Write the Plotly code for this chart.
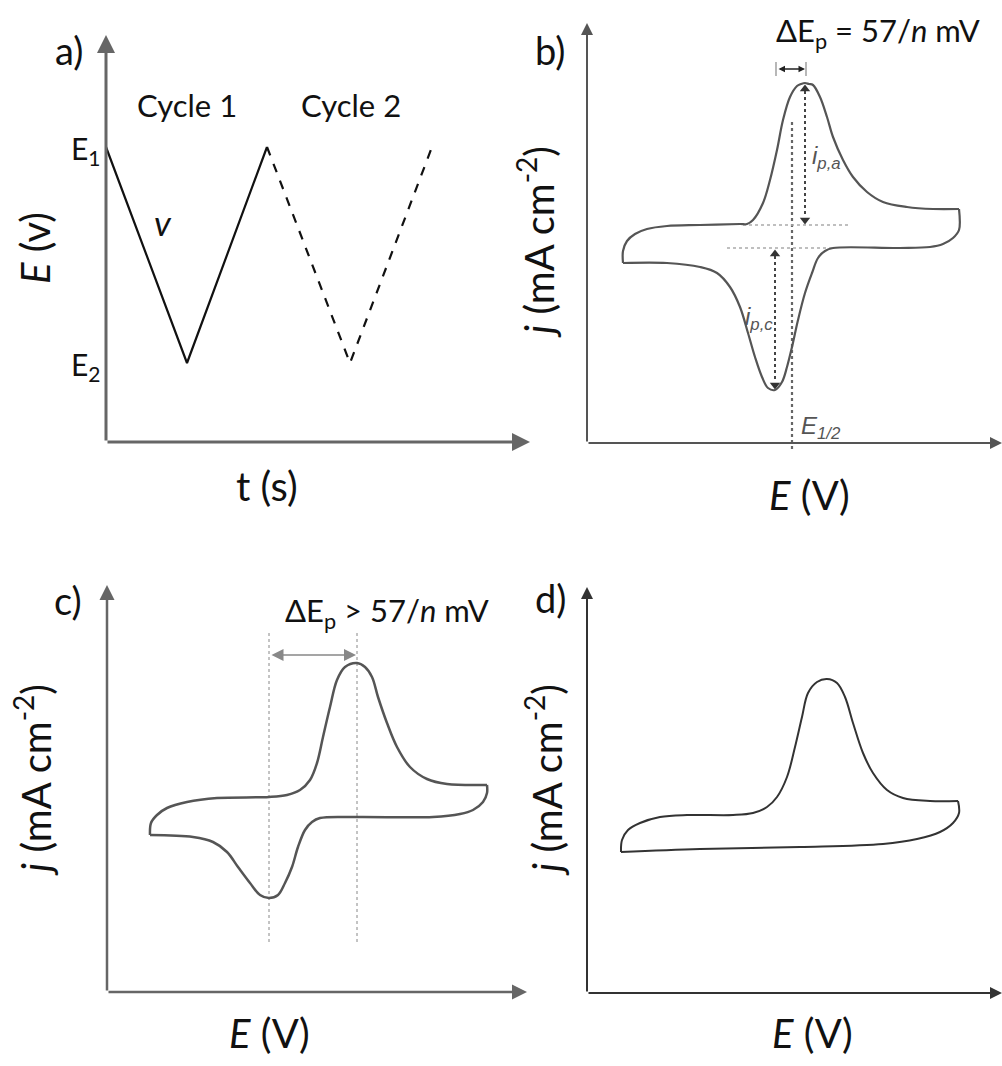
import plotly.graph_objects as go

W, H = 1002, 1066

# ---------------- data (arbitrary schematic units) ----------------
# panel a: potential waveform
a_t_cycle1 = [0, 81, 161]
a_E_cycle1 = [295, 79, 295]
a_t_cycle2 = [161, 244, 326]
a_E_cycle2 = [295, 79, 295]

# panel b: reversible CV (forward = upper branch, reverse = lower branch)
b_fwd_E = [36, 36, 40, 48, 60, 80, 113, 153, 160, 166, 176, 183, 190, 196, 203, 210, 214, 218, 222, 226,
           233, 240, 246, 256, 266, 280, 296, 320, 346, 372]
b_fwd_j = [180, 192, 202, 209, 214, 217, 218, 219, 219, 223, 240, 263, 293, 323, 346, 357, 359, 360, 359, 358,
           346, 326, 306, 283, 266, 251, 241, 236, 234, 234]
b_rev_E = [372, 372, 366, 356, 343, 313, 246, 238, 231, 225, 218, 211, 205, 200, 195, 188, 181, 175, 168, 161,
           153, 143, 130, 113, 80, 36]
b_rev_j = [234, 213, 205, 199, 196, 195, 195, 192, 185, 170, 150, 123, 96, 76, 61, 53, 55, 66, 86, 110,
           136, 156, 170, 176, 180, 180]
b_Epa, b_Epc, b_E12 = 218, 188, 205
b_jpa, b_jpc = 360, 53
b_base_a, b_base_c = 218, 195

# panel c: quasi-reversible CV
c_fwd_E = [43, 44, 50, 60, 80, 110, 162, 180, 193, 203, 210, 216, 223, 230, 238, 250, 258, 265, 271, 280,
           290, 303, 320, 340, 380]
c_fwd_j = [157, 169, 177, 184, 190, 194, 195, 197, 202, 212, 229, 255, 285, 312, 325, 329, 325, 315, 295, 269,
           245, 225, 213, 208, 207]
c_rev_E = [380, 380, 376, 366, 353, 326, 250, 213, 205, 198, 191, 185, 178, 171, 162, 153, 143, 131, 120, 106,
           86, 43]
c_rev_j = [207, 199, 190, 182, 178, 175, 175, 174, 170, 162, 145, 125, 109, 97, 94, 97, 109, 125, 140, 150,
           155, 157]
c_Epc, c_Epa = 162, 250

# panel d: irreversible CV
d_fwd_E = [34, 35, 41, 53, 73, 100, 146, 166, 180, 190, 200, 208, 215, 221, 230, 240, 250, 258, 266, 276,
           286, 300, 316, 343, 371]
d_fwd_j = [141, 153, 163, 170, 176, 178, 178, 180, 186, 196, 216, 246, 276, 300, 311, 314, 310, 296, 270, 240,
           220, 203, 195, 192, 192]
d_rev_E = [371, 372, 366, 353, 330, 296, 213, 113, 34]
d_rev_j = [192, 180, 170, 161, 154, 149, 146, 144, 141]

# ---------------- layout helpers ----------------
FONT = "Lato, Open Sans, sans-serif"

def px(x, y):
    return x / W, 1 - y / H

panels = {
    # name: (origin_x_px, origin_y_px, xrange, yrange, x_tip, y_tip)
    "a": (106, 442, [-20, 424], [-20, 407], 424, 407),
    "b": (587, 443, [-20, 415], [-20, 420], 415, 420),
    "c": (107, 992, [-20, 420], [-20, 407], 420, 407),
    "d": (587, 993, [-20, 415], [-20, 406], 415, 406),
}
axis_ids = {"a": ("x", "y"), "b": ("x2", "y2"), "c": ("x3", "y3"), "d": ("x4", "y4")}
axis_colors = {"a": "#666666", "b": "#555555", "c": "#666666", "d": "#333333"}
axis_widths = {"a": 3, "b": 2, "c": 2.5, "d": 2}

fig = go.Figure()
layout = dict(width=W, height=H, margin=dict(l=0, r=0, t=0, b=0),
              paper_bgcolor="white", plot_bgcolor="rgba(0,0,0,0)", showlegend=False)
annotations = []

for k, (ox, oy, xr, yr, xt, yt) in panels.items():
    xa, ya = axis_ids[k]
    xname = "xaxis" + xa[1:]
    yname = "yaxis" + ya[1:]
    layout[xname] = dict(domain=[(ox + xr[0]) / W, (ox + xr[1]) / W], range=xr,
                         visible=False, fixedrange=True, anchor=ya)
    layout[yname] = dict(domain=[1 - (oy - yr[0]) / H, 1 - (oy - yr[1]) / H], range=yr,
                         visible=False, fixedrange=True, anchor=xa)
    for (tx, ty) in [(xt, 0), (0, yt)]:
        annotations.append(dict(x=tx, y=ty, ax=0, ay=0, xref=xa, yref=ya, axref=xa, ayref=ya,
                                text="", showarrow=True, arrowhead=2, arrowsize=1.2,
                                arrowwidth=axis_widths[k], arrowcolor=axis_colors[k]))

def line(x, y, ax, color, width=2, dash=None, shape="linear"):
    fig.add_trace(go.Scatter(x=x, y=y, mode="lines", xaxis=ax[0], yaxis=ax[1],
                             line=dict(color=color, width=width, dash=dash, shape=shape, smoothing=1.0),
                             hoverinfo="skip"))

# panel a
line(a_t_cycle1, a_E_cycle1, axis_ids["a"], "#111111", 2.2)
line(a_t_cycle2, a_E_cycle2, axis_ids["a"], "#111111", 2.2, dash="dash")

# panel b
bx = axis_ids["b"]
line([b_E12, b_E12], [-6, 322], bx, "#666666", 2.2, dash="dot")
line([156, 261], [b_base_a, b_base_a], bx, "#aaaaaa", 1.3, dash="dot")
line([140, 246], [b_base_c, b_base_c], bx, "#aaaaaa", 1.3, dash="dot")
line([b_Epa, b_Epa], [b_jpa - 8, b_base_a + 8], bx, "#444444", 2, dash="dot")
line([b_Epc, b_Epc], [b_base_c - 8, b_jpc + 8], bx, "#444444", 2, dash="dot")
fig.add_trace(go.Scatter(x=[b_Epa, b_Epa, b_Epc, b_Epc], y=[b_jpa - 6, b_base_a + 5, b_base_c - 6, b_jpc + 5],
                         mode="markers", xaxis=bx[0], yaxis=bx[1], hoverinfo="skip",
                         marker=dict(symbol=["triangle-up", "triangle-down", "triangle-up", "triangle-down"],
                                     size=9, color="#333333")))
line(b_fwd_E, b_fwd_j, bx, "#555555", 2.2, shape="spline")
line(b_rev_E, b_rev_j, bx, "#555555", 2.2, shape="spline")
# small ΔEp marker
line([189, 189], [367, 381], bx, "#888888", 1.2)
line([219, 219], [367, 381], bx, "#888888", 1.2)
annotations.append(dict(x=218, y=374, ax=190, ay=374, xref=bx[0], yref=bx[1], axref=bx[0], ayref=bx[1],
                        text="", showarrow=True, arrowhead=2, startarrowhead=2, arrowside="end+start",
                        arrowsize=1, arrowwidth=1.3, arrowcolor="#222222"))

# panel c
cx = axis_ids["c"]
line([c_Epc, c_Epc], [50, 362], cx, "#888888", 1, dash="dot")
line([c_Epa, c_Epa], [50, 362], cx, "#888888", 1, dash="dot")
line(c_fwd_E, c_fwd_j, cx, "#555555", 2.5, shape="spline")
line(c_rev_E, c_rev_j, cx, "#555555", 2.5, shape="spline")
annotations.append(dict(x=c_Epa - 1, y=337, ax=c_Epc + 1, ay=337, xref=cx[0], yref=cx[1], axref=cx[0], ayref=cx[1],
                        text="", showarrow=True, arrowhead=2, startarrowhead=2, arrowside="end+start",
                        arrowsize=1.6, arrowwidth=1.5, arrowcolor="#888888"))

# panel d
dx = axis_ids["d"]
line(d_fwd_E, d_fwd_j, dx, "#333333", 2, shape="spline")
line(d_rev_E, d_rev_j, dx, "#333333", 2, shape="spline")

# ---------------- text ----------------
def text(x, y, s, size, color="#111111", angle=0, family=FONT, xanchor="center"):
    xp, yp = px(x, y)
    annotations.append(dict(x=xp, y=yp, xref="paper", yref="paper", text=s, showarrow=False,
                            xanchor=xanchor, yanchor="middle", textangle=angle,
                            font=dict(family=family, size=size, color=color)))

# panel labels
text(69, 50, "a)", 38)
text(550, 50, "b)", 38)
text(68, 600, "c)", 38)
text(550, 598, "d)", 38)

# panel a
text(187, 105, "Cycle 1", 31)
text(351, 105, "Cycle 2", 31)
text(103, 150, "E<sub>1</sub>", 30, xanchor="right")
text(103, 366, "E<sub>2</sub>", 30, xanchor="right")
text(163, 222, "<i>v</i>", 35)
text(35, 248, "<i>E</i> (v)", 40, angle=-90)
text(267, 486, "t (s)", 40)

# panel b
text(878, 33, "ΔE<sub>p</sub> = 57/<i>n</i> mV", 31)
text(826, 158, "<i>i<sub>p,a</sub></i>", 24, color="#555555", family="Liberation Sans, Arial")
text(759, 318, "<i>i<sub>p,c</sub></i>", 24, color="#555555", family="Liberation Sans, Arial")
text(821, 427, "<i>E<sub>1/2</sub></i>", 24, color="#555555", family="Liberation Sans, Arial")
text(809, 495, "<i>E</i> (V)", 40)
text(536, 242, "<i>j</i> (mA cm<sup>-2</sup>)", 40, angle=-90)

# panel c
text(387, 612, "ΔE<sub>p</sub> > 57/<i>n</i> mV", 31)
text(269, 1033, "<i>E</i> (V)", 40)
text(33, 780, "<i>j</i> (mA cm<sup>-2</sup>)", 40, angle=-90)

# panel d
text(812, 1033, "<i>E</i> (V)", 40)
text(544, 780, "<i>j</i> (mA cm<sup>-2</sup>)", 40, angle=-90)

layout["annotations"] = annotations
fig.update_layout(**layout)
fig.write_html("out.html")
